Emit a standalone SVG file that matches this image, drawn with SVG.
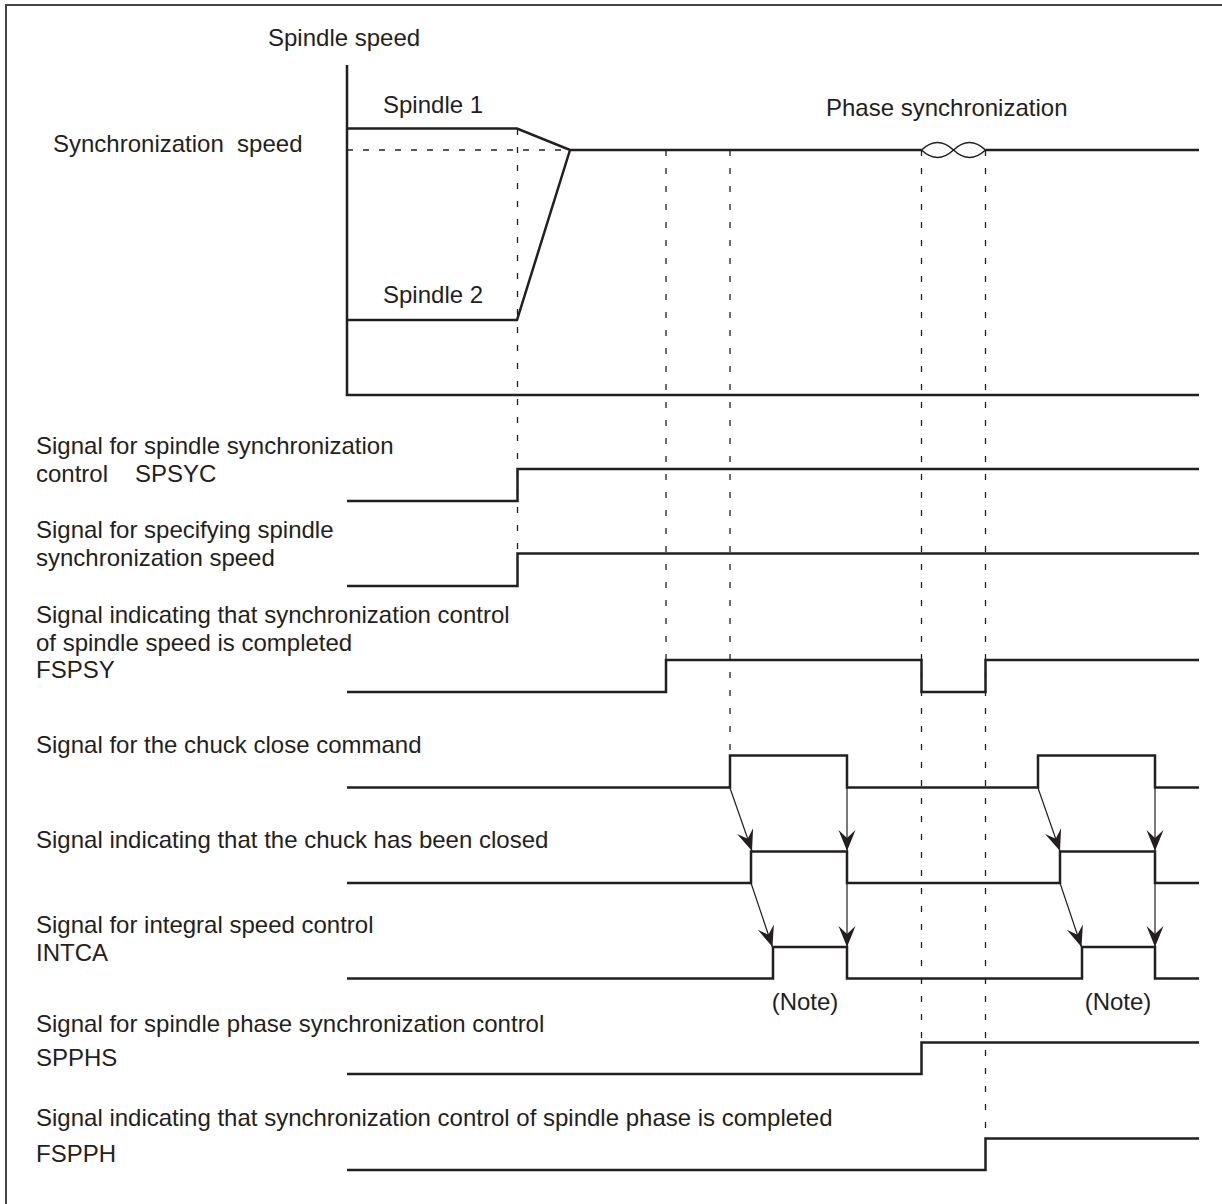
<svg xmlns="http://www.w3.org/2000/svg" width="1222" height="1204" viewBox="0 0 1222 1204">
<style>
  text { font-family: "Liberation Sans", Arial, sans-serif; font-size: 24px; fill: #231f20; }
  .sig { fill: none; stroke: #231f20; stroke-width: 2.5; stroke-linejoin: miter; stroke-linecap: butt; }
  .thin { fill: none; stroke: #231f20; stroke-width: 1.5; }
  .dash { fill: none; stroke: #231f20; stroke-width: 1.3; stroke-dasharray: 6 10; }
  .vdash { fill: none; stroke: #231f20; stroke-width: 1.3; stroke-dasharray: 6 12; }
  .arr { fill: none; stroke: #231f20; stroke-width: 1.2; marker-end: url(#ah); }
  .border { fill: none; stroke: #444; stroke-width: 2; }
</style>
<defs>
  <marker id="ah" viewBox="-24 -11 26 22" refX="0" refY="0" markerWidth="26" markerHeight="22" orient="auto" markerUnits="userSpaceOnUse">
    <path d="M0,0 L-21,-8.5 L-13,0 L-21,8.5 Z" fill="#231f20"/>
  </marker>
</defs>
<rect width="1222" height="1204" fill="#ffffff"/>
<path class="border" d="M6,1204 V5 H1222"/>

<g id="speed-chart">
  <path class="sig" d="M347,65 V395 H1199"/>
  <text x="268" y="46">Spindle speed</text>
  <text x="53" y="152" xml:space="preserve">Synchronization  speed</text>
  <text x="383" y="113">Spindle 1</text>
  <text x="383" y="303">Spindle 2</text>
  <text x="826" y="116">Phase synchronization</text>
  <path class="dash" d="M347,150 H569"/>
  <path class="sig" d="M347,128.5 H517 L570,150 H921.5"/>
  <path class="sig" d="M347,320 H517 L570,150"/>
  <path class="thin" d="M921.5,150 Q937.5,135 953.5,150 Q969.5,135 985.5,150"/>
  <path class="thin" d="M921.5,150 Q937.5,165 953.5,150 Q969.5,165 985.5,150"/>
  <path class="sig" d="M985.5,150 H1199"/>
</g>

<g id="guides">
  <path class="vdash" d="M517.5,129 V553"/>
  <path class="vdash" d="M666,150 V660"/>
  <path class="vdash" d="M730,150 V756"/>
  <path class="vdash" d="M921.5,150 V1043"/>
  <path class="vdash" d="M985.5,150 V1138"/>
</g>

<g id="spsyc">
  <text x="36" y="454">Signal for spindle synchronization</text>
  <text x="36" y="482">control<tspan x="135">SPSYC</tspan></text>
  <path class="sig" d="M347,501 H517.5 V469 H1199"/>
</g>

<g id="sync-speed">
  <text x="36" y="538">Signal for specifying spindle</text>
  <text x="36" y="566">synchronization speed</text>
  <path class="sig" d="M347,586 H517.5 V553.5 H1199"/>
</g>

<g id="fspsy">
  <text x="36" y="623">Signal indicating that synchronization control</text>
  <text x="36" y="651">of spindle speed is completed</text>
  <text x="36" y="678">FSPSY</text>
  <path class="sig" d="M347,692 H666 V660 H921.5 V692 H985.5 V660 H1199"/>
</g>

<g id="chuck-close">
  <text x="36" y="753">Signal for the chuck close command</text>
  <path class="sig" d="M347,787.5 H730 V755.5 H847 V787.5 H1038 V755.5 H1155 V787.5 H1199"/>
</g>

<g id="chuck-closed">
  <text x="36" y="848">Signal indicating that the chuck has been closed</text>
  <path class="sig" d="M347,883 H751 V851.5 H847 V883 H1060 V851.5 H1155 V883 H1199"/>
</g>

<g id="intca">
  <text x="36" y="933">Signal for integral speed control</text>
  <text x="36" y="961">INTCA</text>
  <path class="sig" d="M347,978.5 H773 V947 H847 V978.5 H1082 V947 H1155 V978.5 H1199"/>
  <text x="805" y="1010" text-anchor="middle">(Note)</text>
  <text x="1118" y="1010" text-anchor="middle">(Note)</text>
</g>

<g id="spphs">
  <text x="36" y="1032">Signal for spindle phase synchronization control</text>
  <text x="36" y="1066">SPPHS</text>
  <path class="sig" d="M347,1074 H921.5 V1042.5 H1199"/>
</g>

<g id="fspph">
  <text x="36" y="1126">Signal indicating that synchronization control of spindle phase is completed</text>
  <text x="36" y="1162">FSPPH</text>
  <path class="sig" d="M347,1170 H985.5 V1138.5 H1199"/>
</g>

<g id="connectors">
  <path class="arr" d="M730,788 L752,851"/>
  <path class="arr" d="M847,788 L847,851"/>
  <path class="arr" d="M751,883 L772.5,947"/>
  <path class="arr" d="M847,883 L847,947"/>
  <path class="arr" d="M1038,788 L1060,851"/>
  <path class="arr" d="M1155,788 L1155,851"/>
  <path class="arr" d="M1060,883 L1081.5,947"/>
  <path class="arr" d="M1155,883 L1155,947"/>
</g>
</svg>
